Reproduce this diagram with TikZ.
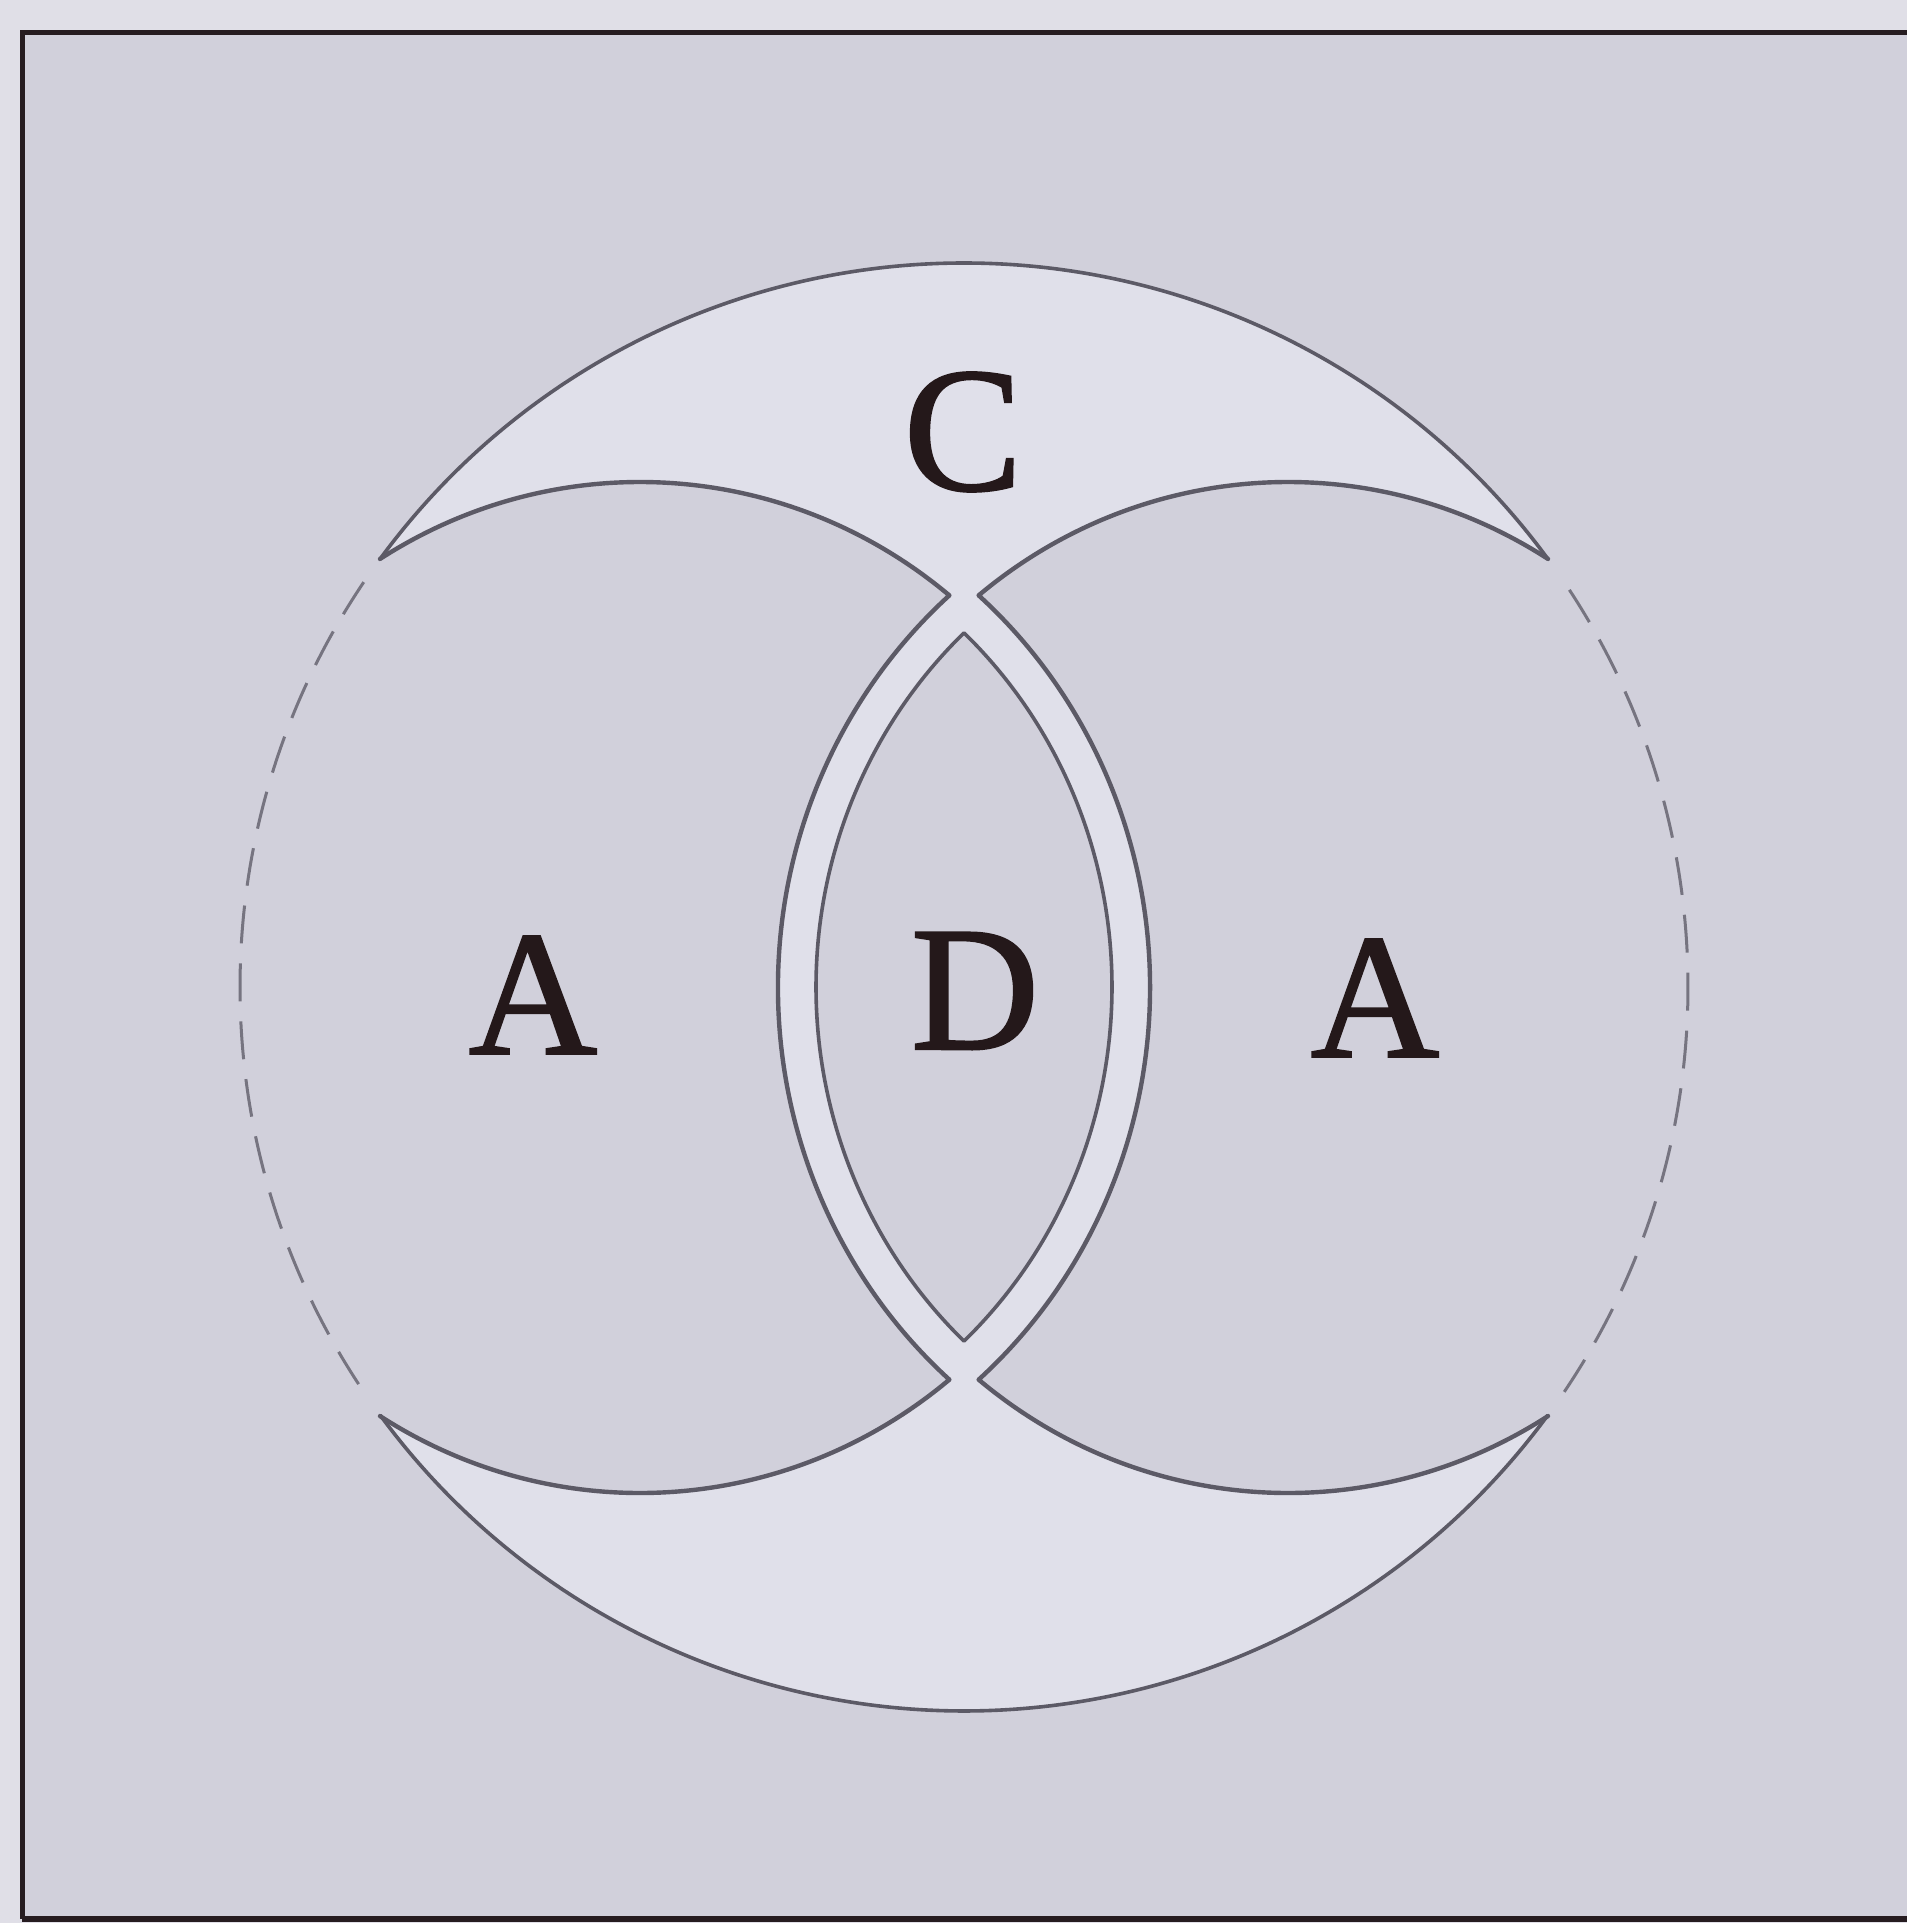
\documentclass[tikz,border=0pt]{standalone}
\usepackage{fontspec}
\setmainfont{Liberation Serif}
\newfontfamily\labfont{Liberation Serif}[FakeBold=1.2]
\definecolor{paperc}{RGB}{224,223,231}
\definecolor{bgc}{RGB}{209,208,219}
\definecolor{lightc}{RGB}{224,224,234}
\definecolor{linec}{RGB}{92,90,102}
\definecolor{dashc}{RGB}{118,116,128}
\definecolor{framec}{RGB}{38,28,32}
\definecolor{txtc}{RGB}{36,24,26}
\tikzset{
  outl/.style={draw=linec, line width=2.2pt, line join=round, line cap=round},
  bigl/.style={draw=linec, line width=1.8pt},
  dashl/.style={draw=dashc, line width=1.5pt, dash pattern=on 19pt off 10pt},
  lab/.style={text=txtc, inner sep=0pt, font=\labfont\fontsize{89pt}{100pt}\selectfont}
}
\begin{document}
\begin{tikzpicture}[x=0.5pt,y=0.5pt]
\useasboundingbox (0,0) rectangle (1907,1923);
% paper and panel
\fill[paperc] (0,0) rectangle (1907,1923);
\fill[bgc] (22,4) rectangle (1907,1890);
\draw[framec, line width=2.5pt] (22,4) -- (22,1890) -- (1907,1890);
\draw[framec, line width=3pt] (22,4) -- (1907,4);
% light big disc
\fill[lightc] (964,936) circle[radius=724];
% A left region
\begin{scope}
  \clip (640,936) ellipse[x radius=490, y radius=505];
  \fill[bgc, even odd rule] (0,0) rectangle (1907,1923) (1288,936) ellipse[x radius=509, y radius=524];
\end{scope}
% A right region
\begin{scope}
  \clip (1288,936) ellipse[x radius=490, y radius=505];
  \fill[bgc, even odd rule] (0,0) rectangle (1907,1923) (640,936) ellipse[x radius=509, y radius=524];
\end{scope}
% D region
\begin{scope}
  \clip (640,936) ellipse[x radius=472, y radius=487];
  \fill[bgc] (1288,936) ellipse[x radius=472, y radius=487];
\end{scope}
% big circle: solid top and bottom, dashed sides
\draw[bigl] ([shift={(964,936)}]36.26:724) arc[start angle=36.26, end angle=143.74, radius=724];
\draw[bigl] ([shift={(964,936)}]216.26:724) arc[start angle=216.26, end angle=323.74, radius=724];
\draw[dashl] ([shift={(964,936)}]146:724) arc[start angle=146, end angle=214, radius=724];
\draw[dashl] ([shift={(964,936)}]-34:724) arc[start angle=-34, end angle=34, radius=724];
% A left outline
\draw[outl] ([shift={(640,936)}]122.05:490 and 505)
  arc[start angle=122.05, end angle=50.85, x radius=490, y radius=505]
  arc[start angle=131.55, end angle=228.45, x radius=509, y radius=524]
  arc[start angle=-50.85, end angle=-122.05, x radius=490, y radius=505];
% A right outline
\draw[outl] ([shift={(1288,936)}]57.95:490 and 505)
  arc[start angle=57.95, end angle=129.15, x radius=490, y radius=505]
  arc[start angle=48.45, end angle=-48.45, x radius=509, y radius=524]
  arc[start angle=230.85, end angle=302.05, x radius=490, y radius=505];
% D outline
\draw[outl, line width=1.8pt] ([shift={(640,936)}]-46.65:472 and 487)
  arc[start angle=-46.65, end angle=46.65, x radius=472, y radius=487]
  arc[start angle=133.35, end angle=226.65, x radius=472, y radius=487] -- cycle;
% labels
\node[lab] (labc) at (963,1491) {C};
\node[lab] (labal) at (533,928) {A};
\node[lab] (labd) at (975,932) {D};
\node[lab] (labar) at (1375,925) {A};
\end{tikzpicture}
\end{document}
